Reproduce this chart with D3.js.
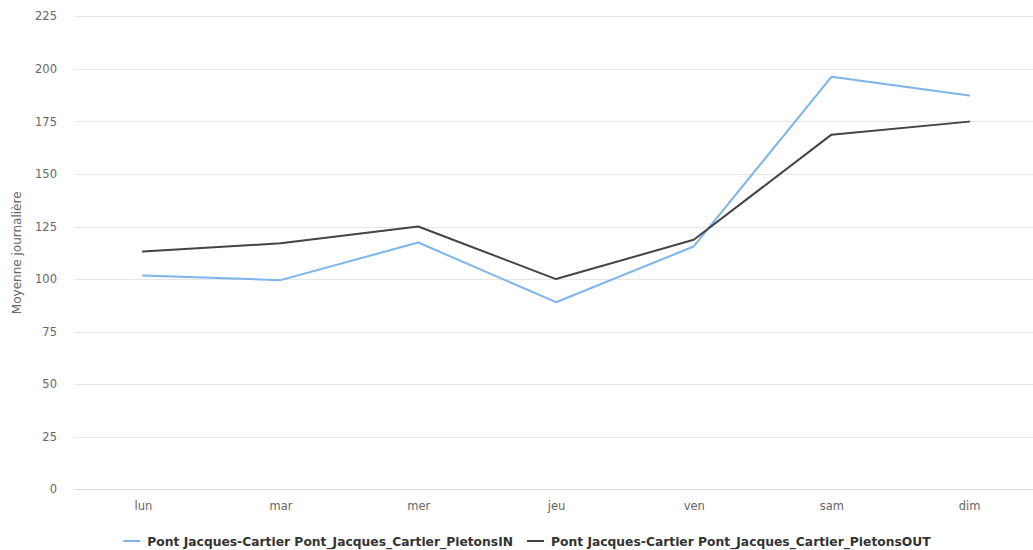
<!DOCTYPE html>
<html><head><meta charset="utf-8">
<script src="https://cdn.jsdelivr.net/npm/d3@7"></script>
<style>
body{margin:0;background:#fff;}
svg{display:block;font-family:"DejaVu Sans",sans-serif;}
</style></head>
<body><svg id="chart" width="1033" height="550"></svg>
<script>
const categories = ["lun","mar","mer","jeu","ven","sam","dim"];
const seriesNames = ["Pont Jacques-Cartier Pont_Jacques_Cartier_PietonsIN","Pont Jacques-Cartier Pont_Jacques_Cartier_PietonsOUT"];
const valuesIN  = [101.7, 99.5, 117.4, 89.0, 115.5, 196.2, 187.3];
const valuesOUT = [113.1, 117.0, 125.0, 100.0, 118.7, 168.7, 174.9];
const yTicks = [0,25,50,75,100,125,150,175,200,225];
const colors = ["#7cb5ec","#434348"];
const yTitle = "Moyenne journalière";

(function(){
const svg = d3.select("#chart");
const pLeft = 74, pRight = 1038, pTop = 16.3, pBottom = 489.3;
const x = d3.scalePoint().domain(categories).range([pLeft, pRight]).padding(0.5);
const y = d3.scaleLinear().domain([0,225]).range([pBottom, pTop]);

// gridlines
svg.append("g").selectAll("line").data(yTicks.filter(d=>d>0)).join("line")
  .attr("x1", pLeft).attr("x2", 1033)
  .attr("y1", d=>Math.round(y(d))+0.5).attr("y2", d=>Math.round(y(d))+0.5)
  .attr("stroke","#e6e6e6").attr("stroke-width",1);

// y axis labels
const yAxis = svg.append("g").attr("transform",`translate(${pLeft-17},0)`)
  .call(d3.axisLeft(y).tickValues(yTicks).tickSize(0).tickPadding(0));
yAxis.select(".domain").remove();
yAxis.selectAll("text").attr("fill","#666").style("font-size","11.5px").style("font-family","DejaVu Sans");

// x axis
const xAxis = svg.append("g").attr("transform",`translate(0,${Math.round(pBottom)+0.5})`)
  .call(d3.axisBottom(x).tickSize(0).tickPadding(12));
xAxis.select(".domain").attr("d", `M${pLeft},0H1033`).attr("stroke","#d8dce3");
xAxis.selectAll("text").attr("fill","#666").style("font-size","11.5px").style("font-family","DejaVu Sans");

// y title
svg.append("text").attr("transform",`translate(21,${(pTop+pBottom)/2}) rotate(-90)`)
  .attr("text-anchor","middle").attr("fill","#666").style("font-size","12px").text(yTitle);

// lines
const line = d3.line().x((d,i)=>x(categories[i])).y(d=>y(d));
[valuesIN, valuesOUT].forEach((vals,k)=>{
  svg.append("path").datum(vals).attr("d", line).attr("fill","none")
    .attr("stroke", colors[k]).attr("stroke-width",2).attr("stroke-linejoin","round").attr("stroke-linecap","round");
});

// legend
const lg = svg.append("g");
let cx = 0;
seriesNames.forEach((name,k)=>{
  const g = lg.append("g").attr("transform",`translate(${cx},0)`);
  g.append("line").attr("x1",0).attr("x2",17).attr("y1",0).attr("y2",0).attr("stroke",colors[k]).attr("stroke-width",2);
  const t = g.append("text").attr("x",24).attr("y",4.5).attr("fill","#333").style("font-size","12.3px").style("font-weight","bold").text(name);
  const w = t.node().getComputedTextLength();
  cx += 24 + w + 14;
});
const totalW = cx - 14;
lg.attr("transform",`translate(${527 - totalW/2},541)`);
})();
</script></body></html>
